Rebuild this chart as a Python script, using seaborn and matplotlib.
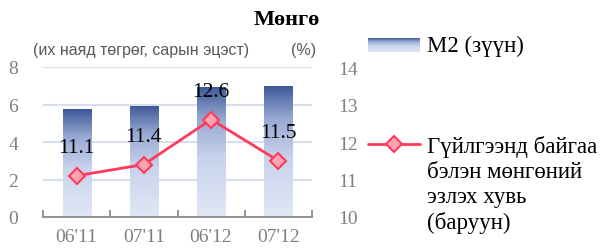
import numpy as np
import pandas as pd
import matplotlib
matplotlib.use("Agg")
import matplotlib.pyplot as plt
from matplotlib.colors import LinearSegmentedColormap
from matplotlib.lines import Line2D
import seaborn as sns

# ---- data ----
categories = ["06'11", "07'11", "06'12", "07'12"]
m2_values = [5.76, 5.94, 6.96, 6.99]          # left axis, trillion MNT
cash_share = [11.1, 11.4, 12.6, 11.5]         # right axis, %
left_ticks = [0, 2, 4, 6, 8]
right_ticks = [10, 11, 12, 13, 14]

title = "Мөнгө"
left_unit = "(их наяд төгрөг, сарын эцэст)"
right_unit = "(%)"
legend_m2 = "M2 (зүүн)"
legend_share = "Гүйлгээнд байгаа\nбэлэн мөнгөний\nэзлэх хувь\n(баруун)"

sns.set_theme(style="white")
plt.rcParams["font.family"] = ["Liberation Serif", "DejaVu Serif"]

W, H = 605, 253
fig = plt.figure(figsize=(W / 100, H / 100), dpi=100)
ax = fig.add_axes([43 / W, 1 - 218 / H, (312 - 43) / W, (218 - 68) / H])

df = pd.DataFrame({"cat": categories, "m2": m2_values, "share": cash_share})

sns.barplot(data=df, x="cat", y="m2", ax=ax, width=0.42, color="#3C5A99",
            zorder=2)

grad_cmap = LinearSegmentedColormap.from_list(
    "bars", [(0.0, "#E1E7F5"), (0.45, "#C8D3EC"), (0.75, "#97A8D2"), (1.0, "#3B5897")])
grad = np.linspace(0, 1, 256).reshape(-1, 1)
for p in list(ax.patches):
    x0, y0 = p.get_x(), p.get_y()
    w, h = p.get_width(), p.get_height()
    p.set_facecolor("none")
    p.set_edgecolor("none")
    im = ax.imshow(grad, extent=[x0, x0 + w, y0, y0 + h], origin="lower",
                   cmap=grad_cmap, aspect="auto", zorder=2)
    im.set_clip_path(p)

ax.set_xlim(-0.5, len(categories) - 0.5)
ax.set_ylim(left_ticks[0], left_ticks[-1])
ax.set_yticks(left_ticks)
ax.set_xticks(range(len(categories)))
ax.set_xticklabels(categories)
ax.set_xlabel("")
ax.set_ylabel("")
ax.grid(axis="y", color="#D9DEEC", linewidth=1.5, zorder=0)
ax.set_axisbelow(True)
for s in ["left", "right", "top"]:
    ax.spines[s].set_visible(False)
ax.spines["bottom"].set_color("#8C8C8C")
ax.spines["bottom"].set_linewidth(1.3)
ax.spines["bottom"].set_zorder(5)
ax.set_xticks(np.arange(-0.5, len(categories), 1.0), minor=True)
ax.tick_params(axis="x", which="major", length=0, pad=8, labelsize=14,
               labelcolor="#7F7F7F")
ax.tick_params(axis="x", which="minor", direction="in", length=5,
               color="#8C8C8C", width=1.3, bottom=True)
ax.tick_params(axis="y", length=0, pad=18, labelsize=14, labelcolor="#7F7F7F")

ax2 = ax.twinx()
sns.lineplot(x=np.arange(len(categories)), y=cash_share, ax=ax2,
             color="#FF3A5C", linewidth=2, marker="D", markersize=8.5,
             markerfacecolor="#FFA3B3", markeredgecolor="#FF3A5C",
             markeredgewidth=1.5, zorder=4)
ax2.set_ylim(right_ticks[0], right_ticks[-1])
ax2.set_yticks(right_ticks)
ax2.tick_params(axis="y", length=0, pad=19, labelsize=14, labelcolor="#7F7F7F")
ax2.grid(False)
for s in ax2.spines.values():
    s.set_visible(False)
ax2.set_xlim(-0.5, len(categories) - 0.5)

for i, v in enumerate(cash_share):
    ax2.annotate(f"{v}", (i, v), xytext=(0, 20), textcoords="offset points",
                 ha="center", va="center", fontsize=15.5, color="black", zorder=6)

# title and units
fig.text(287 / W, 1 - 20 / H, title, ha="center", va="center",
         fontsize=16, fontweight="bold", color="black")
fig.text(33 / W, 1 - 50 / H, left_unit, ha="left", va="center",
         fontsize=11.5, color="#595959", family=["Liberation Sans", "DejaVu Sans"])
fig.text(304 / W, 1 - 50 / H, right_unit, ha="center", va="center",
         fontsize=11.5, color="#595959", family=["Liberation Sans", "DejaVu Sans"])

# legend
lax = fig.add_axes([368 / W, 1 - 53 / H, 52 / W, 14 / H])
lax.imshow(grad, origin="lower", cmap=grad_cmap, aspect="auto",
           extent=[0, 1, 0, 1])
lax.axis("off")
fig.text(427 / W, 1 - 46 / H, legend_m2, ha="left", va="center",
         fontsize=16.5, color="black")
fig.add_artist(Line2D([368 / W, 420 / W], [1 - 145 / H, 1 - 145 / H],
                      transform=fig.transFigure, color="#FF3A5C", linewidth=2))
fig.add_artist(Line2D([394 / W], [1 - 145 / H], transform=fig.transFigure,
                      color="#FF3A5C", linestyle="none", marker="D",
                      markersize=8.5, markerfacecolor="#FFA3B3",
                      markeredgecolor="#FF3A5C", markeredgewidth=1.5))
fig.text(427 / W, 1 - 136 / H, legend_share, ha="left", va="top",
         fontsize=16.5, color="black", linespacing=1.25)

fig.savefig("out.png", dpi=100)
